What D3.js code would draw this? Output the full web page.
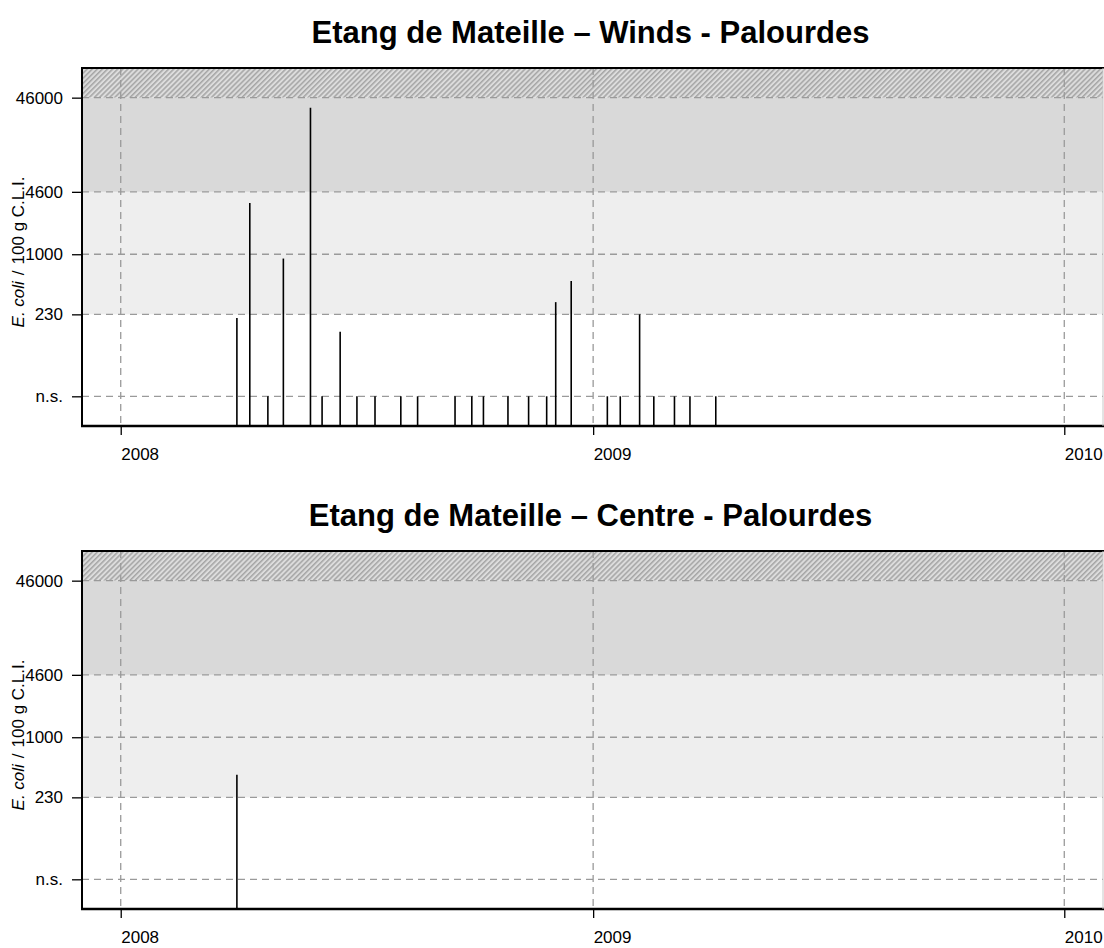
<!DOCTYPE html>
<html>
<head>
<meta charset="utf-8">
<script src="https://cdn.jsdelivr.net/npm/d3@7"></script>
<style>
  body { margin: 0; background: #fff; }
  svg { display: block; }
  text { font-family: "Liberation Sans", Arial, Helvetica, sans-serif; }
</style>
</head>
<body>
<script>
// Level used to plot non-significant (n.s.) results
const NS = 31;

// Y axis ticks (log scale) and their labels
const yTickValues = [NS, 230, 1000, 4600, 46000];
const yTickLabels = ["n.s.", "230", "1000", "4600", "46000"];

// Quality class thresholds (E. coli / 100 g C.L.I.)
const classBreaks = [230, 4600, 46000];

// X axis years
const xTickYears = ["2008-01-01", "2009-01-01", "2010-01-01"];

// Station "Winds" sampling dates and results
const windsDates = [
  "2008-03-31", "2008-04-10", "2008-04-24", "2008-05-06", "2008-05-27",
  "2008-06-05", "2008-06-19", "2008-07-02", "2008-07-16", "2008-08-05",
  "2008-08-18", "2008-09-16", "2008-09-29", "2008-10-08", "2008-10-27",
  "2008-11-12", "2008-11-26", "2008-12-03", "2008-12-15", "2009-01-12",
  "2009-01-22", "2009-02-06", "2009-02-17", "2009-03-05", "2009-03-17",
  "2009-04-06"
];
const windsValues = [
  210, 3500, NS, 900, 36000,
  NS, 150, NS, NS, NS,
  NS, NS, NS, NS, NS,
  NS, NS, 310, 520, NS,
  NS, 230, NS, NS, NS,
  NS
];

// Station "Centre" sampling dates and results
const centreDates = ["2008-03-31"];
const centreValues = [400];

const panels = [
  { title: "Etang de Mateille \u2013 Winds - Palourdes", dates: windsDates, values: windsValues, top: 68 },
  { title: "Etang de Mateille \u2013 Centre - Palourdes", dates: centreDates, values: centreValues, top: 551 }
];

const W = 1104, H = 948;
const left = 82, plotW = 1021, plotH = 358;
const parse = d3.utcParse("%Y-%m-%d");

const svg = d3.select("body").append("svg")
  .attr("width", W).attr("height", H);

// diagonal hatching for the area above the top threshold
const defs = svg.append("defs");
const pat = defs.append("pattern")
  .attr("id", "hatch")
  .attr("patternUnits", "userSpaceOnUse")
  .attr("width", 3.6).attr("height", 3.6)
  .attr("patternTransform", "rotate(45)");
pat.append("rect").attr("width", 3.6).attr("height", 3.6).attr("fill", "#dcdcdc");
pat.append("line").attr("x1", 0.8).attr("y1", 0).attr("x2", 0.8).attr("y2", 3.6)
  .attr("stroke", "#9c9c9c").attr("stroke-width", 1.3);

const x = d3.scaleUtc()
  .domain([parse("2007-12-02"), parse("2010-01-31")])
  .range([0, plotW]);

const y = d3.scaleLog()
  .domain([15, 95000])
  .range([plotH, 0]);

const gridStyle = sel => sel
  .attr("stroke", "#9a9a9a")
  .attr("stroke-width", 1.3)
  .attr("stroke-dasharray", "7,5")
  .attr("fill", "none");

panels.forEach(p => {
  const g = svg.append("g").attr("transform", `translate(${left},${p.top})`);

  // title
  svg.append("text")
    .attr("x", left + plotW / 2 - 2)
    .attr("y", p.top - 25)
    .attr("text-anchor", "middle")
    .attr("font-size", 31)
    .attr("font-weight", "bold")
    .attr("fill", "#000")
    .text(p.title);

  // class bands
  g.append("rect")
    .attr("x", 0).attr("width", plotW)
    .attr("y", y(classBreaks[1])).attr("height", y(classBreaks[0]) - y(classBreaks[1]))
    .attr("fill", "#eeeeee");
  g.append("rect")
    .attr("x", 0).attr("width", plotW)
    .attr("y", y(classBreaks[2])).attr("height", y(classBreaks[1]) - y(classBreaks[2]))
    .attr("fill", "#d9d9d9");
  g.append("rect")
    .attr("x", 0).attr("width", plotW)
    .attr("y", 0).attr("height", y(classBreaks[2]))
    .attr("fill", "url(#hatch)");

  // grid
  g.selectAll("line.hgrid").data(yTickValues).join("line")
    .attr("class", "hgrid")
    .attr("x1", 0).attr("x2", plotW)
    .attr("y1", d => y(d)).attr("y2", d => y(d))
    .call(gridStyle);
  g.selectAll("line.vgrid").data(xTickYears).join("line")
    .attr("class", "vgrid")
    .attr("x1", d => x(parse(d))).attr("x2", d => x(parse(d)))
    .attr("y1", 0).attr("y2", plotH)
    .call(gridStyle);

  // result bars
  g.selectAll("line.bar").data(p.values).join("line")
    .attr("class", "bar")
    .attr("x1", (d, i) => x(parse(p.dates[i])))
    .attr("x2", (d, i) => x(parse(p.dates[i])))
    .attr("y1", y.range()[0])
    .attr("y2", d => y(d))
    .attr("stroke", "#000")
    .attr("stroke-width", 1.6);

  // y axis
  const ya = g.append("g")
    .call(d3.axisLeft(y)
      .tickValues(yTickValues)
      .tickFormat((d, i) => yTickLabels[i])
      .tickSize(10)
      .tickPadding(9));
  ya.select(".domain").remove();
  ya.selectAll(".tick line").attr("stroke", "#000").attr("stroke-width", 1.3);
  ya.selectAll(".tick text")
    .attr("font-size", 17)
    .attr("font-family", "\"Liberation Sans\", Arial, sans-serif")
    .attr("fill", "#000");

  // x axis
  const xa = g.append("g")
    .attr("transform", `translate(0,${plotH})`)
    .call(d3.axisBottom(x)
      .tickValues(xTickYears.map(parse))
      .tickFormat(d3.utcFormat("%Y"))
      .tickSize(9)
      .tickPadding(13));
  xa.select(".domain").remove();
  xa.selectAll(".tick line").attr("stroke", "#000").attr("stroke-width", 1.3);
  xa.selectAll(".tick text")
    .attr("text-anchor", "start")
    .attr("font-size", 17)
    .attr("font-family", "\"Liberation Sans\", Arial, sans-serif")
    .attr("fill", "#000");

  // frame
  g.append("line").attr("x1", 0).attr("x2", 0).attr("y1", 0).attr("y2", plotH)
    .attr("stroke", "#000").attr("stroke-width", 2);
  g.append("line").attr("x1", -1).attr("x2", plotW + 2).attr("y1", 0).attr("y2", 0)
    .attr("stroke", "#000").attr("stroke-width", 2);
  g.append("line").attr("x1", -1).attr("x2", plotW + 2).attr("y1", plotH).attr("y2", plotH)
    .attr("stroke", "#000").attr("stroke-width", 2.4);
  g.append("line").attr("x1", plotW).attr("x2", plotW).attr("y1", 0).attr("y2", plotH)
    .attr("stroke", "#c8c8c8").attr("stroke-width", 1);

  // y axis title
  const t = svg.append("text")
    .attr("transform", `translate(24,${p.top + 184}) rotate(-90)`)
    .attr("text-anchor", "middle")
    .attr("font-size", 17)
    .attr("fill", "#000");
  t.append("tspan").attr("font-style", "italic").text("E. coli");
  t.append("tspan").attr("dx", 6).text("/");
  t.append("tspan").attr("dx", 6).text("100 g C.L.I.");
});
</script>
</body>
</html>
